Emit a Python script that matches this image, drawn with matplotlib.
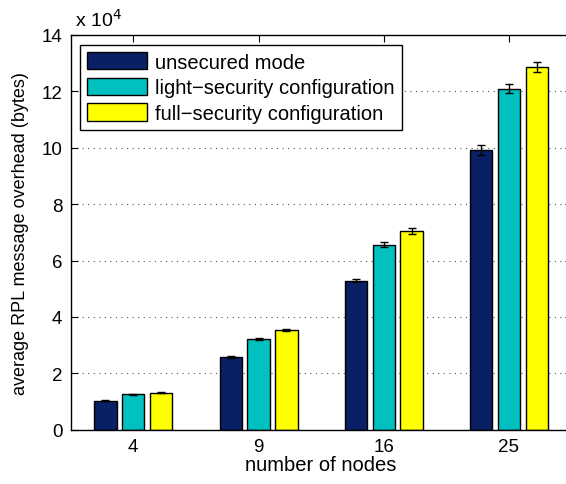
import matplotlib
matplotlib.use('Agg')
import matplotlib.pyplot as plt
import numpy as np

plt.rcParams['font.family'] = ['Liberation Sans', 'DejaVu Sans']

# number of nodes in each topology
nodes = ['4', '9', '16', '25']

# mean overhead in units of 1e4 bytes, with error half-widths
unsecured = [1.03, 2.58, 5.29, 9.92]
unsecured_err = [0.02, 0.03, 0.06, 0.17]
light = [1.26, 3.21, 6.56, 12.10]
light_err = [0.02, 0.03, 0.09, 0.165]
full = [1.31, 3.54, 7.05, 12.86]
full_err = [0.02, 0.04, 0.10, 0.18]

labels = ['unsecured mode', 'light\u2212security configuration', 'full\u2212security configuration']
colors = ['#0a2064', '#00c0c0', '#ffff00']

fig = plt.figure(figsize=(5.66, 4.85), dpi=100)
ax = fig.add_axes([0.1249, 0.112, 0.885, 0.8138])

x = np.arange(1, len(nodes) + 1)
offset = 0.2222
width = 0.178
series = [(unsecured, unsecured_err), (light, light_err), (full, full_err)]
for i, (vals, errs) in enumerate(series):
    pos = x + (i - 1) * offset
    ax.bar(pos, vals, width, color=colors[i], edgecolor='black', linewidth=1.0,
           label=labels[i], zorder=2)
    ax.errorbar(pos, vals, yerr=errs, fmt='none', ecolor='black', elinewidth=1.0,
                capsize=3, capthick=1.0, zorder=3)

ax.set_xlim(0.5, 4.5)
ax.set_ylim(0, 14)
ax.set_xticks(x)
ax.set_xticklabels(nodes)
ax.set_yticks(np.arange(0, 15, 2))
ax.tick_params(direction='in', length=5, labelsize=13.5, top=True, right=True, width=0.8, pad=6)
ax.yaxis.grid(True, linestyle=(0, (1, 4)), color='#555555', linewidth=0.8, zorder=0)
ax.set_axisbelow(True)
for sp in ax.spines.values():
    sp.set_linewidth(1.0)

ax.set_xlabel('number of nodes', fontsize=14.5, labelpad=0)
ax.set_ylabel('average RPL message overhead (bytes)', fontsize=13, labelpad=9)
ax.text(0.008, 1.012, r'x 10$^{4}$', transform=ax.transAxes, fontsize=14,
        ha='left', va='bottom')

leg = ax.legend(loc='upper left', bbox_to_anchor=(0.018, 0.975), fontsize=14.5,
                handlelength=3.0, handleheight=0.95, labelspacing=0.3,
                handletextpad=0.4, borderpad=0.35, borderaxespad=0, fancybox=False,
                framealpha=1, edgecolor='black')
leg.get_frame().set_linewidth(1.0)

fig.savefig('out.png', dpi=100)
